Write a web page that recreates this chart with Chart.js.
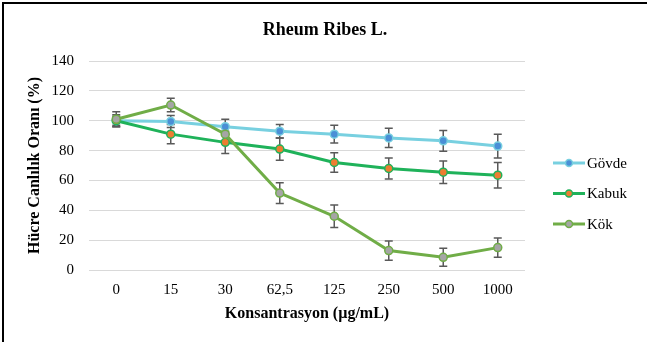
<!DOCTYPE html>
<html>
<head>
<meta charset="utf-8">
<script src="https://cdn.jsdelivr.net/npm/chart.js@4/dist/chart.umd.min.js"></script>
<style>
  html, body { margin: 0; padding: 0; background: #fff; }
  #wrap { width: 647px; height: 342px; position: relative; }
</style>
</head>
<body>
<div id="wrap"><canvas id="c"></canvas></div>
<script>
// konsantrasyon (µg/mL)
const concentrations = ['0', '15', '30', '62,5', '125', '250', '500', '1000'];

const govde = [100, 99.5, 96, 93, 91, 88.5, 86.5, 83];
const govdeErr = [3, 4, 5, 4.5, 6, 6.5, 7, 8];

const kabuk = [100, 91, 85.5, 81, 72, 68, 65.5, 63.5];
const kabukErr = [4, 6.5, 7.5, 7.5, 6.5, 7, 7.5, 8.5];

const kok = [101, 110.5, 91, 51.5, 36, 13, 8.5, 15];
const kokErr = [5, 4.5, 5, 7, 7.5, 6.5, 6, 6.5];

const yTicks = [0, 20, 40, 60, 80, 100, 120, 140];

const SERIF = '"Liberation Serif", "Times New Roman", serif';

// error bars drawn through the scales, under the markers
const errorBars = {
    id: 'errorBars',
    beforeDatasetsDraw(chart) {
        const ctx = chart.ctx;
        const x = chart.scales.x, y = chart.scales.y;
        ctx.save();
        ctx.strokeStyle = '#595959';
        ctx.lineWidth = 1.5;
        chart.data.datasets.forEach(ds => {
            ds.data.forEach((v, i) => {
                const e = ds.err[i];
                const px = x.getPixelForValue(i);
                const top = y.getPixelForValue(v + e);
                const bot = y.getPixelForValue(v - e);
                ctx.beginPath();
                ctx.moveTo(px, top); ctx.lineTo(px, bot);
                ctx.moveTo(px - 4, top); ctx.lineTo(px + 4, top);
                ctx.moveTo(px - 4, bot); ctx.lineTo(px + 4, bot);
                ctx.stroke();
            });
        });
        ctx.restore();
    }
};

// frame, title and legend on the right
const frameLegend = {
    id: 'frameLegend',
    afterDraw(chart) {
        const ctx = chart.ctx;
        ctx.save();
        ctx.strokeStyle = '#000';
        ctx.lineWidth = 2;
        ctx.beginPath();
        ctx.moveTo(3, 342); ctx.lineTo(3, 3); ctx.lineTo(647, 3);
        ctx.stroke();

        ctx.fillStyle = '#000';
        ctx.textAlign = 'center';
        ctx.textBaseline = 'middle';
        ctx.font = 'bold 18px ' + SERIF;
        ctx.fillText('Rheum Ribes L.', 325, 30);

        ctx.textAlign = 'left';
        ctx.font = '15px ' + SERIF;
        chart.data.datasets.forEach((ds, i) => {
            const cy = 163 + i * 30.5;
            ctx.strokeStyle = ds.borderColor;
            ctx.lineWidth = 3;
            ctx.beginPath(); ctx.moveTo(553, cy); ctx.lineTo(585, cy); ctx.stroke();
            ctx.beginPath(); ctx.arc(569, cy, 3.5, 0, Math.PI * 2);
            ctx.fillStyle = ds.pointBackgroundColor; ctx.fill();
            ctx.lineWidth = 1.5; ctx.strokeStyle = ds.pointBorderColor; ctx.stroke();
            ctx.fillStyle = '#000';
            ctx.fillText(ds.label, 587, cy + 1);
        });
        ctx.restore();
    }
};

new Chart(document.getElementById('c'), {
    type: 'line',
    data: {
        labels: concentrations,
        datasets: [
            // lower order is drawn last, so Kök sits on top like in the original
            { label: 'Gövde', data: govde, err: govdeErr, order: 2, borderColor: '#78d0e0', pointBackgroundColor: '#4a8fd6', pointBorderColor: '#78d0e0' },
            { label: 'Kabuk', data: kabuk, err: kabukErr, order: 1, borderColor: '#1fb25a', pointBackgroundColor: '#ed7d31', pointBorderColor: '#1fb25a' },
            { label: 'Kök', data: kok, err: kokErr, order: 0, borderColor: '#70ad47', pointBackgroundColor: '#a5a5a5', pointBorderColor: '#70ad47' }
        ].map(d => Object.assign(d, { borderWidth: 3, pointRadius: 4, pointBorderWidth: 1.5, tension: 0, clip: false }))
    },
    options: {
        responsive: true,
        maintainAspectRatio: false,
        animation: false,
        layout: { padding: { left: 4, right: 122, top: 61, bottom: 15 } },
        plugins: {
            legend: { display: false },
            tooltip: { enabled: false },
            title: { display: false }
        },
        scales: {
            x: {
                offset: true,
                grid: { display: false },
                border: { display: false },
                ticks: { color: '#000', font: { family: SERIF, size: 15 }, padding: 3, maxRotation: 0 },
                title: { display: true, text: 'Konsantrasyon (µg/mL)', color: '#000', font: { family: SERIF, size: 16, weight: 'bold' }, padding: { top: 4, bottom: 4 } },
                afterFit(s) { s.height = 342 - 270 - 15; }
            },
            y: {
                min: 0, max: 140,
                afterBuildTicks(s) { s.ticks = yTicks.map(v => ({ value: v })); },
                grid: { color: '#d9d9d9', lineWidth: 1, drawTicks: false },
                border: { display: false },
                ticks: { color: '#000', font: { family: SERIF, size: 15 }, padding: 15 },
                title: { display: true, text: 'Hücre Canlılık Oranı (%)', color: '#000', font: { family: SERIF, size: 16, weight: 'bold' }, padding: { top: 21, bottom: 4 } },
                afterFit(s) { s.width = 89 - 4; }
            }
        }
    },
    plugins: [errorBars, frameLegend]
});
</script>
</body>
</html>
